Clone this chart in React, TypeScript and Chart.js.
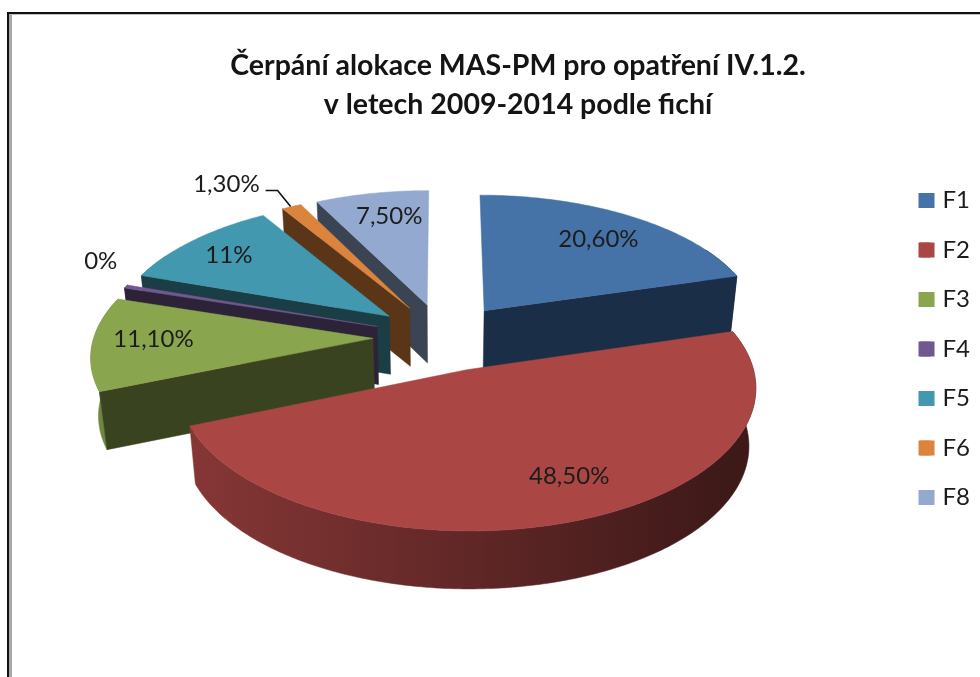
import React, { useEffect, useRef } from "react";
import { Chart, registerables } from "chart.js";

Chart.register(...registerables);

const categories = ["F1", "F2", "F3", "F4", "F5", "F6", "F8"];
const shares = [20.6, 48.5, 11.1, 0.4, 11, 1.3, 7.5];
const shareLabels = ["20,60%", "48,50%", "11,10%", "0%", "11%", "1,30%", "7,50%"];
const colors = ["#4573a7", "#aa4644", "#89a54e", "#71588f", "#4198af", "#db843d", "#93a9cf"];
const cutColors = ["#1b2e47", "#451b1a", "#3a431f", "#2d2339", "#1a3d46", "#5a3518", "#3b4453"];
const titleLines = ["Čerpání alokace MAS-PM pro opatření IV.1.2.", "v letech 2009-2014 podle fichí"];

const drawOrder = [6, 5, 4, 3, 2, 0, 1];
const labelRadius = [0.72, 0.62, 0.74, 1.2, 0.65, 1.25, 0.72];
const labelNudge = [[6, -2], [38, 17], [-12, -3], [23, -18], [-30, -11], [-2, -2], [3, -6]];

const VIEW = { cx: 443, cy: 337, R: 279, k: 0.482, p: 0.115, depth: 58, shrink: 0.022, explode: 70 };

function project(X: number, Y: number, z: number) {
  const f = 1 / (1 - (VIEW.p * Y) / VIEW.R);
  return {
    x: VIEW.cx + X * f * (1 - VIEW.shrink * z),
    y: VIEW.cy + VIEW.k * Y * f + VIEW.depth * z,
  };
}

function shade(hex: string, m: number) {
  const n = parseInt(hex.slice(1), 16);
  const c = [(n >> 16) & 255, (n >> 8) & 255, n & 255].map((v) => Math.round(v * m));
  return `rgb(${c[0]},${c[1]},${c[2]})`;
}

const pie3d = {
  id: "pie3d",
  beforeDatasetDraw() {
    return false;
  },
  afterDatasetsDraw(chart: any) {
    const ctx = chart.ctx as CanvasRenderingContext2D;
    const arcs = chart.getDatasetMeta(0).data as any[];
    const geom = arcs.map((el) => {
      const p = el.getProps(["startAngle", "endAngle"], true);
      const mid = (p.startAngle + p.endAngle) / 2;
      const off = el.options.offset as number;
      return { a0: p.startAngle, a1: p.endAngle, mid, ox: Math.cos(mid) * off, oy: Math.sin(mid) * off };
    });
    const polygon = (pts: { x: number; y: number }[], fill: any) => {
      ctx.beginPath();
      pts.forEach((q, i) => (i ? ctx.lineTo(q.x, q.y) : ctx.moveTo(q.x, q.y)));
      ctx.closePath();
      ctx.fillStyle = fill;
      ctx.strokeStyle = fill;
      ctx.lineWidth = 0.5;
      ctx.fill();
      ctx.stroke();
    };
    drawOrder.forEach((i) => {
      const g = geom[i];
      const n = Math.max(2, Math.ceil((g.a1 - g.a0) / 0.015));
      const angle = (s: number) => g.a0 + ((g.a1 - g.a0) * s) / n;
      const rimPoint = (s: number, z: number) => {
        const a = angle(s);
        return project(g.ox + Math.cos(a) * VIEW.R, g.oy + Math.sin(a) * VIEW.R, z);
      };
      const steps = Array.from({ length: n + 1 }, (_, s) => s);
      const top = steps.map((s) => rimPoint(s, 0));
      const apex0 = project(g.ox, g.oy, 0);
      const apex1 = project(g.ox, g.oy, 1);
      const facing = steps.filter((s) => Math.sin(angle(s)) > -0.5);
      if (facing.length > 1) {
        const grad = ctx.createLinearGradient(150, 0, 730, 0);
        grad.addColorStop(0, shade(colors[i], 0.82));
        grad.addColorStop(1, shade(colors[i], 0.36));
        polygon(
          [...facing.map((s) => rimPoint(s, 0)), ...facing.slice().reverse().map((s) => rimPoint(s, 1))],
          grad,
        );
      }
      if (-Math.cos(g.a0) > 0) polygon([apex0, top[0], rimPoint(0, 1), apex1], cutColors[i]);
      if (Math.cos(g.a1) > 0) polygon([apex0, top[n], rimPoint(n, 1), apex1], cutColors[i]);
      polygon([apex0, ...top], colors[i]);
    });
    ctx.save();
    ctx.font = "24px Lato";
    ctx.fillStyle = "#1c1c1c";
    ctx.textBaseline = "middle";
    ctx.textAlign = "center";
    geom.forEach((g, i) => {
      const r = labelRadius[i] * VIEW.R;
      const q = project(g.ox + Math.cos(g.mid) * r, g.oy + Math.sin(g.mid) * r, 0);
      if (i === 5) {
        const e = project(g.ox + Math.cos(g.mid) * VIEW.R, g.oy + Math.sin(g.mid) * VIEW.R, 0);
        ctx.strokeStyle = "#111";
        ctx.lineWidth = 1.6;
        ctx.beginPath();
        ctx.moveTo(e.x - 1, e.y);
        ctx.lineTo(e.x - 14, e.y - 16);
        ctx.lineTo(e.x - 26, e.y - 16);
        ctx.stroke();
        ctx.textAlign = "right";
        ctx.fillText(shareLabels[i], e.x - 30 + labelNudge[i][0], e.y - 20 + labelNudge[i][1]);
        ctx.textAlign = "center";
      } else {
        ctx.fillText(shareLabels[i], q.x + labelNudge[i][0], q.y + labelNudge[i][1]);
      }
    });
    ctx.restore();
  },
  afterDraw(chart: any) {
    const ctx = chart.ctx as CanvasRenderingContext2D;
    (chart.legend.legendHitBoxes as any[]).forEach((hb, i) => {
      ctx.fillStyle = colors[i];
      ctx.fillRect(hb.left - 2, hb.top + hb.height / 2 - 7.5, 16, 15);
    });
  },
};

export default function App() {
  const ref = useRef<HTMLCanvasElement>(null);
  useEffect(() => {
    const chart = new Chart(ref.current as HTMLCanvasElement, {
      type: "pie",
      data: {
        labels: categories,
        datasets: [
          {
            data: shares,
            backgroundColor: colors,
            borderWidth: 0,
            offset: VIEW.explode,
          },
        ],
      },
      options: {
        responsive: false,
        animation: false,
        events: [],
        layout: { padding: { left: 56, right: 0, top: 21, bottom: 0 } },
        plugins: {
          tooltip: { enabled: false },
          title: {
            display: true,
            text: titleLines,
            color: "#141414",
            font: { family: "Lato", size: 28.5, weight: "bold", lineHeight: 1.37 },
            padding: { top: 25, bottom: 10 },
          },
          legend: {
            display: true,
            position: "right",
            labels: {
              boxWidth: 10,
              boxHeight: 15,
              padding: 25.5,
              color: "#1c1c1c",
              font: { family: "Lato", size: 24 },
            },
          },
        },
      },
      plugins: [pie3d],
    } as any);
    return () => chart.destroy();
  }, []);
  return (
    <div style={{ position: "fixed", inset: 0, background: "#fff", overflow: "hidden" }}>
      <div
        style={{
          position: "absolute",
          left: 7,
          top: 12,
          width: 1000,
          height: 700,
          borderLeft: "2px solid #111",
          borderTop: "2px solid #111",
        }}
      >
        <div
          style={{
            width: "100%",
            height: "100%",
            borderLeft: "3px solid #a8a8a8",
            borderTop: "1px solid #c4c4c4",
          }}
        />
      </div>
      <canvas ref={ref} width={980} height={677} style={{ position: "absolute", left: 0, top: 0 }} />
    </div>
  );
}
